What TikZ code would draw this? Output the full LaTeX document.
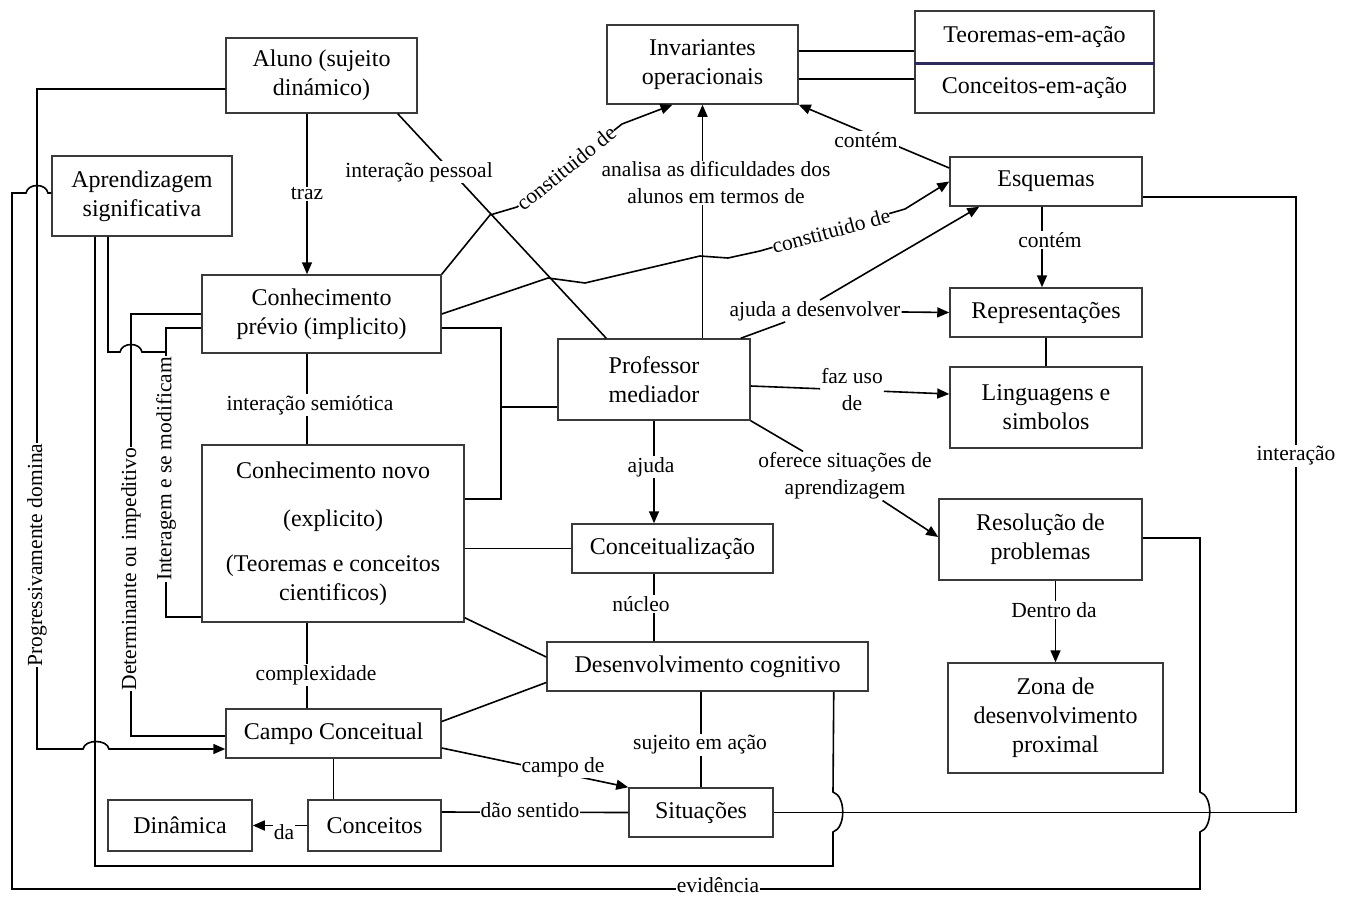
\documentclass[tikz,border=0pt]{standalone}
\usepackage{fontspec}
\setmainfont{Liberation Serif}
\usetikzlibrary{arrows.meta,calc}
\definecolor{boxcol}{HTML}{3A3A3A}
\definecolor{navyline}{HTML}{2B2B5E}
\begin{document}
\begin{tikzpicture}[x=1pt,y=-1pt,
  box/.style={draw=boxcol, line width=1.5pt, fill=white, align=center, inner sep=2pt, font=\fontsize{24}{29}\selectfont},
  lbl/.style={fill=white, inner sep=1pt, align=center, font=\fontsize{21.5}{27}\selectfont},
  con/.style={line width=1.6pt, draw=black},
  arr/.style={con, -{Triangle[length=12pt,width=10pt]}},
]
\fill[white] (0,0) rectangle (1348,897);
\useasboundingbox (0,0) rectangle (1348,897);

% ---------- boxes ----------
\node[box, minimum width=191pt, minimum height=75pt] (aluno) at (321.5,75.5) {Aluno (sujeito\\dinámico)};
\node[box, minimum width=191pt, minimum height=79pt] (inv) at (702.5,64.5) {Invariantes\\operacionais};
\node[box, minimum width=239pt, minimum height=52pt] (teo) at (1034.5,37) {Teoremas-em-ação};
\node[box, minimum width=239pt, minimum height=50pt] (conc) at (1034.5,88) {Conceitos-em-ação};
\draw[navyline, line width=3pt] (teo.south west) -- (teo.south east);
\node[box, minimum width=192pt, minimum height=49pt] (esq) at (1046,181.5) {Esquemas};
\node[box, minimum width=192pt, minimum height=49pt] (rep) at (1046,312.5) {Representações};
\node[box, minimum width=192pt, minimum height=81pt] (ling) at (1046,407.5) {Linguagens e\\simbolos};
\node[box, minimum width=203pt, minimum height=81pt] (res) at (1040.5,539.5) {Resolução de\\problemas};
\node[box, minimum width=215pt, minimum height=110pt] (zona) at (1055.5,718) {Zona de\\desenvolvimento\\proximal};
\node[box, minimum width=180pt, minimum height=80pt] (apr) at (142,196) {Aprendizagem\\significativa};
\node[box, minimum width=239pt, minimum height=78pt] (prev) at (321.5,314) {Conhecimento\\prévio (implicito)};
\node[box, minimum width=262pt, minimum height=177pt] (novo) at (333,533.5) {Conhecimento novo\\[19pt](explicito)\\[16pt](Teoremas e conceitos\\cientificos)};
\node[box, minimum width=192pt, minimum height=81pt] (prof) at (654,379.5) {Professor\\mediador};
\node[box, minimum width=201pt, minimum height=49pt] (conceit) at (672.5,548.5) {Conceitualização};
\node[box, minimum width=321pt, minimum height=49pt] (dc) at (707.5,666.5) {Desenvolvimento cognitivo};
\node[box, minimum width=215pt, minimum height=49pt] (campo) at (333.5,733.5) {Campo Conceitual};
\node[box, minimum width=133pt, minimum height=51pt] (conceitos) at (374.5,825.5) {Conceitos};
\node[box, minimum width=144pt, minimum height=51pt] (din) at (180,825.5) {Dinâmica};
\node[box, minimum width=144pt, minimum height=49pt] (sit) at (701,812.5) {Situações};

% ---------- junction labels ----------
\node[lbl] (ajd) at (815,311) {ajuda a desenvolver};
\node[lbl] (fuso) at (852,390) {faz uso\\de};
\node[lbl] (ofe) at (845,476) {oferece situações de\\aprendizagem};

% ---------- connectors ----------
\draw[arr] ([xshift=-14.5pt]aluno.south) -- node[lbl] (ltraz) {traz} ([xshift=-14.5pt]prev.north);
\draw[con] ([yshift=13.5pt]inv.east) -- ([yshift=-14pt]teo.west);
\draw[con] ([yshift=-14.5pt]inv.east) -- ([yshift=9pt]conc.west);
\draw[arr] (prof.north -| inv.south) -- (inv.south);
\draw[arr] ([yshift=13.5pt]esq.west) -- (inv.south east);
\draw[arr] (prev.north east) -- (490,215) -- (517,207) -- (622,124) -- ([xshift=-30pt]inv.south);
\draw[arr] (prev.east) -- (548,278) -- (585,283) -- (700,256) -- (728,258) -- (760,251) -- (905,209) -- (esq.west);
\draw[con] ([xshift=-20pt]aluno.south east) -- ([xshift=49pt]prof.north west);
\draw[con] ([xshift=-10pt]prof.north east) -- (ajd);
\draw[arr] ([xshift=5pt]ajd.north) -- ([xshift=30pt]esq.south west);
\draw[arr] (ajd) -- (rep.west);
\draw[con] ([yshift=-6.5pt]prof.east) -- (fuso);
\draw[arr] (fuso) -- ([yshift=13.5pt]ling.west);
\draw[con] (prof.south east) -- (ofe);
\draw[arr] (ofe) -- ([yshift=2.5pt]res.west);
\draw[arr] (prof.south) -- (prof.south |- conceit.north);
\draw[con] (prof.south |- conceit.south) -- (prof.south |- dc.north);
\draw[con] ([yshift=-27.5pt]prof.west) -- (501,407);
\draw[con] ([yshift=-14pt]prev.east) -- (501,328) -- (501,499) -- ([yshift=34.5pt]novo.east);
\draw[con] (conceit.west) -- (conceit.west -| novo.east);
\draw[con] ([yshift=5pt]novo.south east) -- ([yshift=9.5pt]dc.west);
\draw[con] ([yshift=12pt]campo.east) -- ([yshift=-16pt]dc.west);
\draw[con] ([xshift=-14.5pt]prev.south) -- ([xshift=-26pt]novo.north);
\draw[con] ([xshift=-26pt]novo.south) -- ([xshift=-26.5pt]campo.north);
\draw[con] (campo.south) -- (campo.south |- conceitos.north);
\draw[arr] (conceitos.west) -- (din.east);
\draw[con] ([yshift=13.5pt]conceitos.east) -- (sit.west);
\draw[arr] ([yshift=-14.5pt]campo.east) -- (sit.north west);
\draw[con] (sit.north |- dc.south) -- (sit.north);
\draw[arr] (zona.north |- res.south) -- (zona.north);
\draw[arr] ([xshift=-4pt]esq.south) -- ([xshift=-4pt]rep.north);
\draw[con] (rep.south) -- (ling.north);

% left side long connectors
\draw[arr] ([yshift=-13.5pt]aluno.west) -- (37,89) -- (37,749) -- (83,749) .. controls (85,739) and (107,739) .. (109,749) -- ([yshift=-15.5pt]campo.west);
\draw[con] (prev.west) -- (131,314) -- (131,736) -- ([yshift=-2.5pt]campo.west);
\draw[con] ([yshift=-14pt]prev.west) -- (166,328) -- (166,617) -- ([yshift=-83.5pt]novo.west);
\coordinate (jint) at (166,352);
\draw[con] ([xshift=-34pt]apr.south) -- (108,352) -- (120,352) .. controls (122,342) and (140,342) .. (142,352) -- (jint);
\draw[con] ([xshift=-47pt]apr.south) -- (95,866) -- (833,866) -- (833,832) .. controls (846,828) and (846,796) .. (833,792) -- ([xshift=-35pt]dc.south east);
\draw[con] ([yshift=3pt]apr.west) -- (48,193) .. controls (46,183) and (28,183) .. (26,193) -- (12,193) -- (12,889) -- (1200,889) -- (1200,832) .. controls (1213,828) and (1213,796) .. (1200,792) -- (1200,538) -- ([yshift=1.5pt]res.east);
\draw[con] ([yshift=-15.5pt]esq.east) -- (1296,197) -- (1296,812.5) -- (sit.east);

% ---------- labels on lines ----------
\node[lbl] (lpess) at (419,172) {interação pessoal};
\node[lbl, rotate=39, inner sep=0pt] (lcons1) at (566,168) {constituido de};
\node[lbl] (lana) at (716,183) {analisa as dificuldades dos\\alunos em termos de};
\node[lbl] (lcont1) at (866,140) {contém};
\node[lbl, rotate=15, inner sep=0pt] (lcons2) at (831,231) {constituido de};
\node[lbl] (lajuda) at (651,467) {ajuda};
\node[lbl] (lnuc) at (641,604) {núcleo};
\node[lbl] (lsem) at (310,405) {interação semiótica};
\node[lbl] (lcomp) at (316,675) {complexidade};
\node[lbl] (lda) at (284,832) {da};
\node[lbl] (ldao) at (530,810) {dão sentido};
\node[lbl] (lcampo) at (563,767) {campo de};
\node[lbl] (lsuj) at (700,745) {sujeito em ação};
\node[lbl] (lden) at (1054,610) {Dentro da};
\node[lbl] (lcont2) at (1050,240) {contém};
\node[lbl, rotate=90] (lprog) at (37,555) {Progressivamente domina};
\node[lbl, rotate=90] (ldet) at (131,569) {Determinante ou impeditivo};
\node[lbl, rotate=90] (lint) at (166,469) {Interagem e se modificam};
\node[lbl, inner ysep=0pt] (levid) at (718,885) {evidência};
\node[lbl] (linter) at (1296,456) {interação};
\end{tikzpicture}
\end{document}
